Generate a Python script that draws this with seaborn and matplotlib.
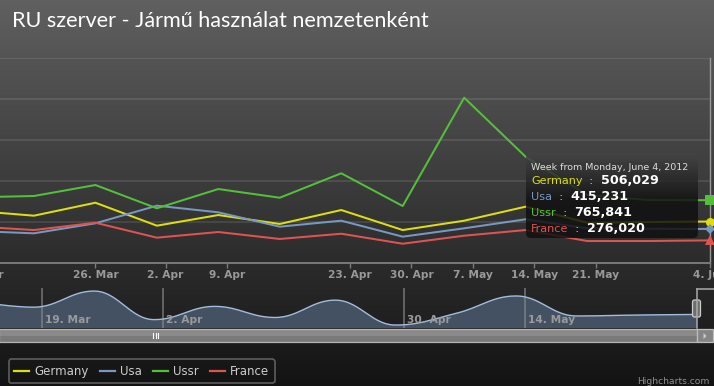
import numpy as np
import pandas as pd
import matplotlib
matplotlib.use('Agg')
import matplotlib.pyplot as plt
import matplotlib.dates as mdates
from matplotlib.patches import FancyBboxPatch, Rectangle, Polygon
from matplotlib.lines import Line2D
import seaborn as sns

# ---------------- data ----------------
week_points = ['2012-03-11', '2012-03-18', '2012-03-25', '2012-04-01', '2012-04-08',
               '2012-04-15', '2012-04-22', '2012-04-29', '2012-05-06', '2012-05-13',
               '2012-05-20', '2012-05-27', '2012-06-03']
series_names = ['Germany', 'Usa', 'Ussr', 'France']
germany = [638000, 577000, 735000, 455000, 585000, 476000, 646000, 402000, 516000, 687000, 491000, 500000, 506029]
usa = [391000, 362000, 484000, 699000, 618000, 443000, 516000, 321000, 423000, 533000, 423000, 416000, 415231]
ussr = [801000, 817000, 951000, 667000, 902000, 796000, 1094000, 695000, 2016000, 1296000, 829000, 768000, 765841]
france = [448000, 402000, 491000, 309000, 378000, 293000, 357000, 235000, 333000, 402000, 268000, 268000, 276020]
series_colors = ['#DDDF0D', '#7798BF', '#55BF3B', '#DF5353']
marker_symbols = ['o', 'D', 's', '^']

tick_dates = ['2012-03-25', '2012-04-02', '2012-04-09', '2012-04-23', '2012-04-30',
              '2012-05-07', '2012-05-14', '2012-05-21', '2012-06-03']
tick_labels = ['26. Mar', '2. Apr', '9. Apr', '23. Apr', '30. Apr', '7. May', '14. May', '21. May', '4. Jun']
cut_tick_date = '2012-03-12'
cut_tick_label = '19. Mar'
nav_tick_dates = ['2012-03-19', '2012-04-02', '2012-04-30', '2012-05-14']
nav_tick_labels = ['19. Mar', '2. Apr', '30. Apr', '14. May']
y_ticks = [0, 500000, 1000000, 1500000, 2000000, 2500000]
title_text = 'RU szerver - Jármű használat nemzetenként'
tooltip_header = 'Week from Monday, June 4, 2012'
credit_text = 'Highcharts.com'

# ---------------- helpers ----------------
def hc_spline(xs, ys, smoothing=1.5, steps=30):
    xs = np.asarray(xs, float); ys = np.asarray(ys, float)
    n = len(xs)
    lcx, lcy, rcx, rcy = xs.copy(), ys.copy(), xs.copy(), ys.copy()
    den = smoothing + 1
    for i in range(1, n - 1):
        px, py = xs[i], ys[i]
        lx, ly = xs[i - 1], ys[i - 1]
        nx, ny = xs[i + 1], ys[i + 1]
        a = (smoothing * px + lx) / den; b = (smoothing * py + ly) / den
        c = (smoothing * px + nx) / den; d = (smoothing * py + ny) / den
        corr = 0.0
        if c != a:
            corr = (d - b) * (c - px) / (c - a) + py - d
        b += corr; d += corr
        if b > ly and b > py:
            b = max(ly, py); d = 2 * py - b
        elif b < ly and b < py:
            b = min(ly, py); d = 2 * py - b
        if d > ny and d > py:
            d = max(ny, py); b = 2 * py - d
        elif d < ny and d < py:
            d = min(ny, py); b = 2 * py - d
        lcx[i], lcy[i], rcx[i], rcy[i] = a, b, c, d
    t = np.linspace(0, 1, steps)
    ox, oy = [xs[0]], [ys[0]]
    for i in range(n - 1):
        P = [(xs[i], ys[i]), (rcx[i], rcy[i]), (lcx[i + 1], lcy[i + 1]), (xs[i + 1], ys[i + 1])]
        bx = ((1 - t) ** 3) * P[0][0] + 3 * ((1 - t) ** 2) * t * P[1][0] + 3 * (1 - t) * t ** 2 * P[2][0] + t ** 3 * P[3][0]
        by = ((1 - t) ** 3) * P[0][1] + 3 * ((1 - t) ** 2) * t * P[1][1] + 3 * (1 - t) * t ** 2 * P[2][1] + t ** 3 * P[3][1]
        ox.extend(bx[1:]); oy.extend(by[1:])
    return np.array(ox), np.array(oy)

W, H = 714, 386
xnum = mdates.date2num(pd.to_datetime(week_points))
values = [germany, usa, ussr, france]
df = pd.DataFrame({
    'x': np.tile(xnum, len(series_names)),
    'value': np.concatenate(values),
    'series': np.repeat(series_names, len(xnum)),
})
palette = dict(zip(series_names, series_colors))

plt.rcParams['font.family'] = ['DejaVu Sans']
fig = plt.figure(figsize=(W / 100, H / 100), dpi=100)

# background gradient
bg = fig.add_axes([0, 0, 1, 1], zorder=-10)
g = np.linspace(96, 16, 400)[:H] / 255.0
img = np.repeat(g[:, None, None], 3, axis=2)
bg.imshow(img, aspect='auto', extent=(0, 1, 0, 1), interpolation='bilinear')
bg.axis('off')

# ---------------- main chart ----------------
px_top, px_bot, px_right = 58, 263, 710
ax = fig.add_axes([0, 1 - px_bot / H, px_right / W, (px_bot - px_top) / H], zorder=1)
ax.patch.set_alpha(0)
sns.lineplot(data=df, x='x', y='value', hue='series', palette=palette, hue_order=series_names,
             linewidth=1.45, ax=ax, legend=False, sort=False, estimator=None)
last_x = xnum[-1]
ax.set_xlim(last_x - px_right / 8.78, last_x)
ax.set_ylim(0, 2500000)
for vals, col, mk in zip(values, series_colors, marker_symbols):
    ax.plot([last_x], [vals[-1]], marker=mk, color=col, markersize=6.5 if mk != 'D' else 5.5,
            markeredgewidth=0, clip_on=False, zorder=5)
ax.set_yticks(y_ticks)
ax.yaxis.grid(True, color='white', alpha=0.1, linewidth=1.4)
ax.xaxis.grid(False)
ax.set_axisbelow(True)
ax.tick_params(axis='y', left=False, right=False, labelleft=False)
ax.set_xticks(mdates.date2num(pd.to_datetime(tick_dates)))
ax.set_xticklabels(tick_labels)
ax.tick_params(axis='x', length=3.6, width=1.0, color='#7a7a7a', pad=1.5,
               labelcolor='#999999', labelsize=7.7)
for lab in ax.get_xticklabels():
    lab.set_fontweight('bold')
ax.annotate(cut_tick_label, xy=(mdates.date2num(pd.Timestamp(cut_tick_date)), 0),
            xycoords=('data', 'axes fraction'), xytext=(0, -5.1), textcoords='offset points',
            ha='center', va='top', color='#999999', fontsize=7.7, fontweight='bold',
            annotation_clip=False)
for s in ['left', 'top']:
    ax.spines[s].set_visible(False)
ax.spines['bottom'].set_color('#7a7a7a'); ax.spines['bottom'].set_linewidth(1.4)
ax.spines['right'].set_color('#9a9a9a'); ax.spines['right'].set_linewidth(1.0)
ax.set_xlabel(''); ax.set_ylabel('')

# ---------------- navigator ----------------
nav_top, nav_bot = 288, 328
nav = fig.add_axes([0, 1 - nav_bot / H, 1, (nav_bot - nav_top) / H], zorder=1)
nav.patch.set_alpha(0)
cx, cy = hc_spline(xnum, germany)
nav.fill_between(cx, cy, 0, color='#435163', linewidth=0)
nav.plot(cx, cy, color='#a3bcdc', linewidth=1.0)
nav.set_xlim(last_x - 697 / 8.614, last_x + 17 / 8.614)
nav.set_ylim(373000, 765000)
nd = mdates.date2num(pd.to_datetime(nav_tick_dates))
nav.set_xticks(nd)
nav.xaxis.grid(True, color='#8a8a8a', linewidth=1.1, alpha=0.8)
nav.tick_params(axis='both', length=0, labelbottom=False, labelleft=False)
for s in nav.spines.values():
    s.set_visible(False)
for d, lab in zip(nd, nav_tick_labels):
    nav.annotate(lab, xy=(d, 0), xycoords=('data', 'axes fraction'), xytext=(2.2, 2.2),
                 textcoords='offset points', ha='left', va='bottom', color='#9a9a9a',
                 fontsize=7.7, fontweight='bold')

# ---------------- overlay (pixel coordinates) ----------------
ov = fig.add_axes([0, 0, 1, 1], zorder=10)
ov.set_xlim(0, W); ov.set_ylim(H, 0); ov.axis('off'); ov.patch.set_alpha(0)

# scrollbar
ov.add_patch(Rectangle((0, 328.5), 697, 13, facecolor='#8a8a8a', edgecolor='none'))
ov.add_patch(Rectangle((0, 336), 697, 5.5, facecolor='#7a7a7a', edgecolor='none'))
ov.add_patch(Rectangle((-1, 328.5), 698, 13.5, facecolor='none', edgecolor='#b5b5b5', linewidth=0.9))
for xr in (153, 155.5, 158):
    ov.plot([xr, xr], [332.5, 338], color='white', linewidth=0.8)
ov.add_patch(Rectangle((697, 328.5), 16, 13, facecolor='#858585', edgecolor='#bdbdbd', linewidth=0.9))
ov.add_patch(Polygon([[703.5, 333], [703.5, 339], [706.5, 336]], closed=True, facecolor='#cccccc', edgecolor='none'))
# navigator outline + handle
ov.plot([697, 714], [289, 289], color='#aaaaaa', linewidth=1.1)
ov.plot([697, 697], [289, 328], color='#aaaaaa', linewidth=1.1)
ov.add_patch(FancyBboxPatch((692.5, 300), 8, 17, boxstyle='round,pad=0,rounding_size=2',
                            facecolor='#6e6e6e', edgecolor='#cccccc', linewidth=0.9))

# tooltip
tx0, ty0, tw, th = 526, 152.5, 172, 85.5
tip = FancyBboxPatch((tx0, ty0), tw, th, boxstyle='round,pad=0,rounding_size=5',
                     facecolor='none', edgecolor='none')
ov.add_patch(tip)
gg = np.concatenate([np.linspace(70, 16, 50), np.full(int(th) - 50 + 2, 16)]) / 255.0
gimg = np.zeros((len(gg), 1, 4))
gimg[:, 0, 0] = gg; gimg[:, 0, 1] = gg; gimg[:, 0, 2] = gg; gimg[:, 0, 3] = 0.85
im = ov.imshow(gimg, aspect='auto', extent=(tx0, tx0 + tw, ty0 + len(gg), ty0), interpolation='bilinear', zorder=3)
im.set_clip_path(tip)
ov.set_xlim(0, W); ov.set_ylim(H, 0)
ov.text(531, 168, tooltip_header, color='#dddddd', fontsize=6.8, ha='left', va='center', zorder=4)
for i, (name, col, vals) in enumerate(zip(series_names, series_colors, values)):
    yy = 181 + 16 * i
    t1 = ov.text(531, yy, name, color=col, fontsize=8.1, ha='left', va='center', zorder=4)
    t2 = ov.annotate('  :  ', xy=(1, 0.5), xycoords=t1, ha='left', va='center', color='#eeeeee',
                     fontsize=8.1, zorder=4)
    ov.annotate(f'{vals[-1]:,}', xy=(1, 0.5), xycoords=t2, ha='left', va='center', color='white',
                fontsize=9.2, fontweight='bold', zorder=4)

# credits
ov.text(637, 386, credit_text, color='#909090', fontsize=6.6, ha='left', va='bottom')

# title (fit width)
title = fig.text(12 / W, 1 - 21 / H, title_text, color='white', fontsize=13, ha='left', va='center',
                 family=['Lato', 'DejaVu Sans'])
fig.canvas.draw()
wt = title.get_window_extent().width
title.set_fontsize(13 * 416 / wt)

# legend
handles = [Line2D([0], [0], color=c, linewidth=1.6) for c in series_colors]
leg = fig.legend(handles, series_names, loc='lower left', bbox_to_anchor=(9 / W, 3 / H),
                 ncol=4, frameon=True, fancybox=True, facecolor='none', edgecolor='#707070',
                 labelcolor='#cccccc', fontsize=8.5, handlelength=1.25, handletextpad=0.45,
                 columnspacing=0.95, borderpad=0.45, borderaxespad=0)
leg.get_frame().set_linewidth(1.2)

fig.savefig('out.png', dpi=100)
